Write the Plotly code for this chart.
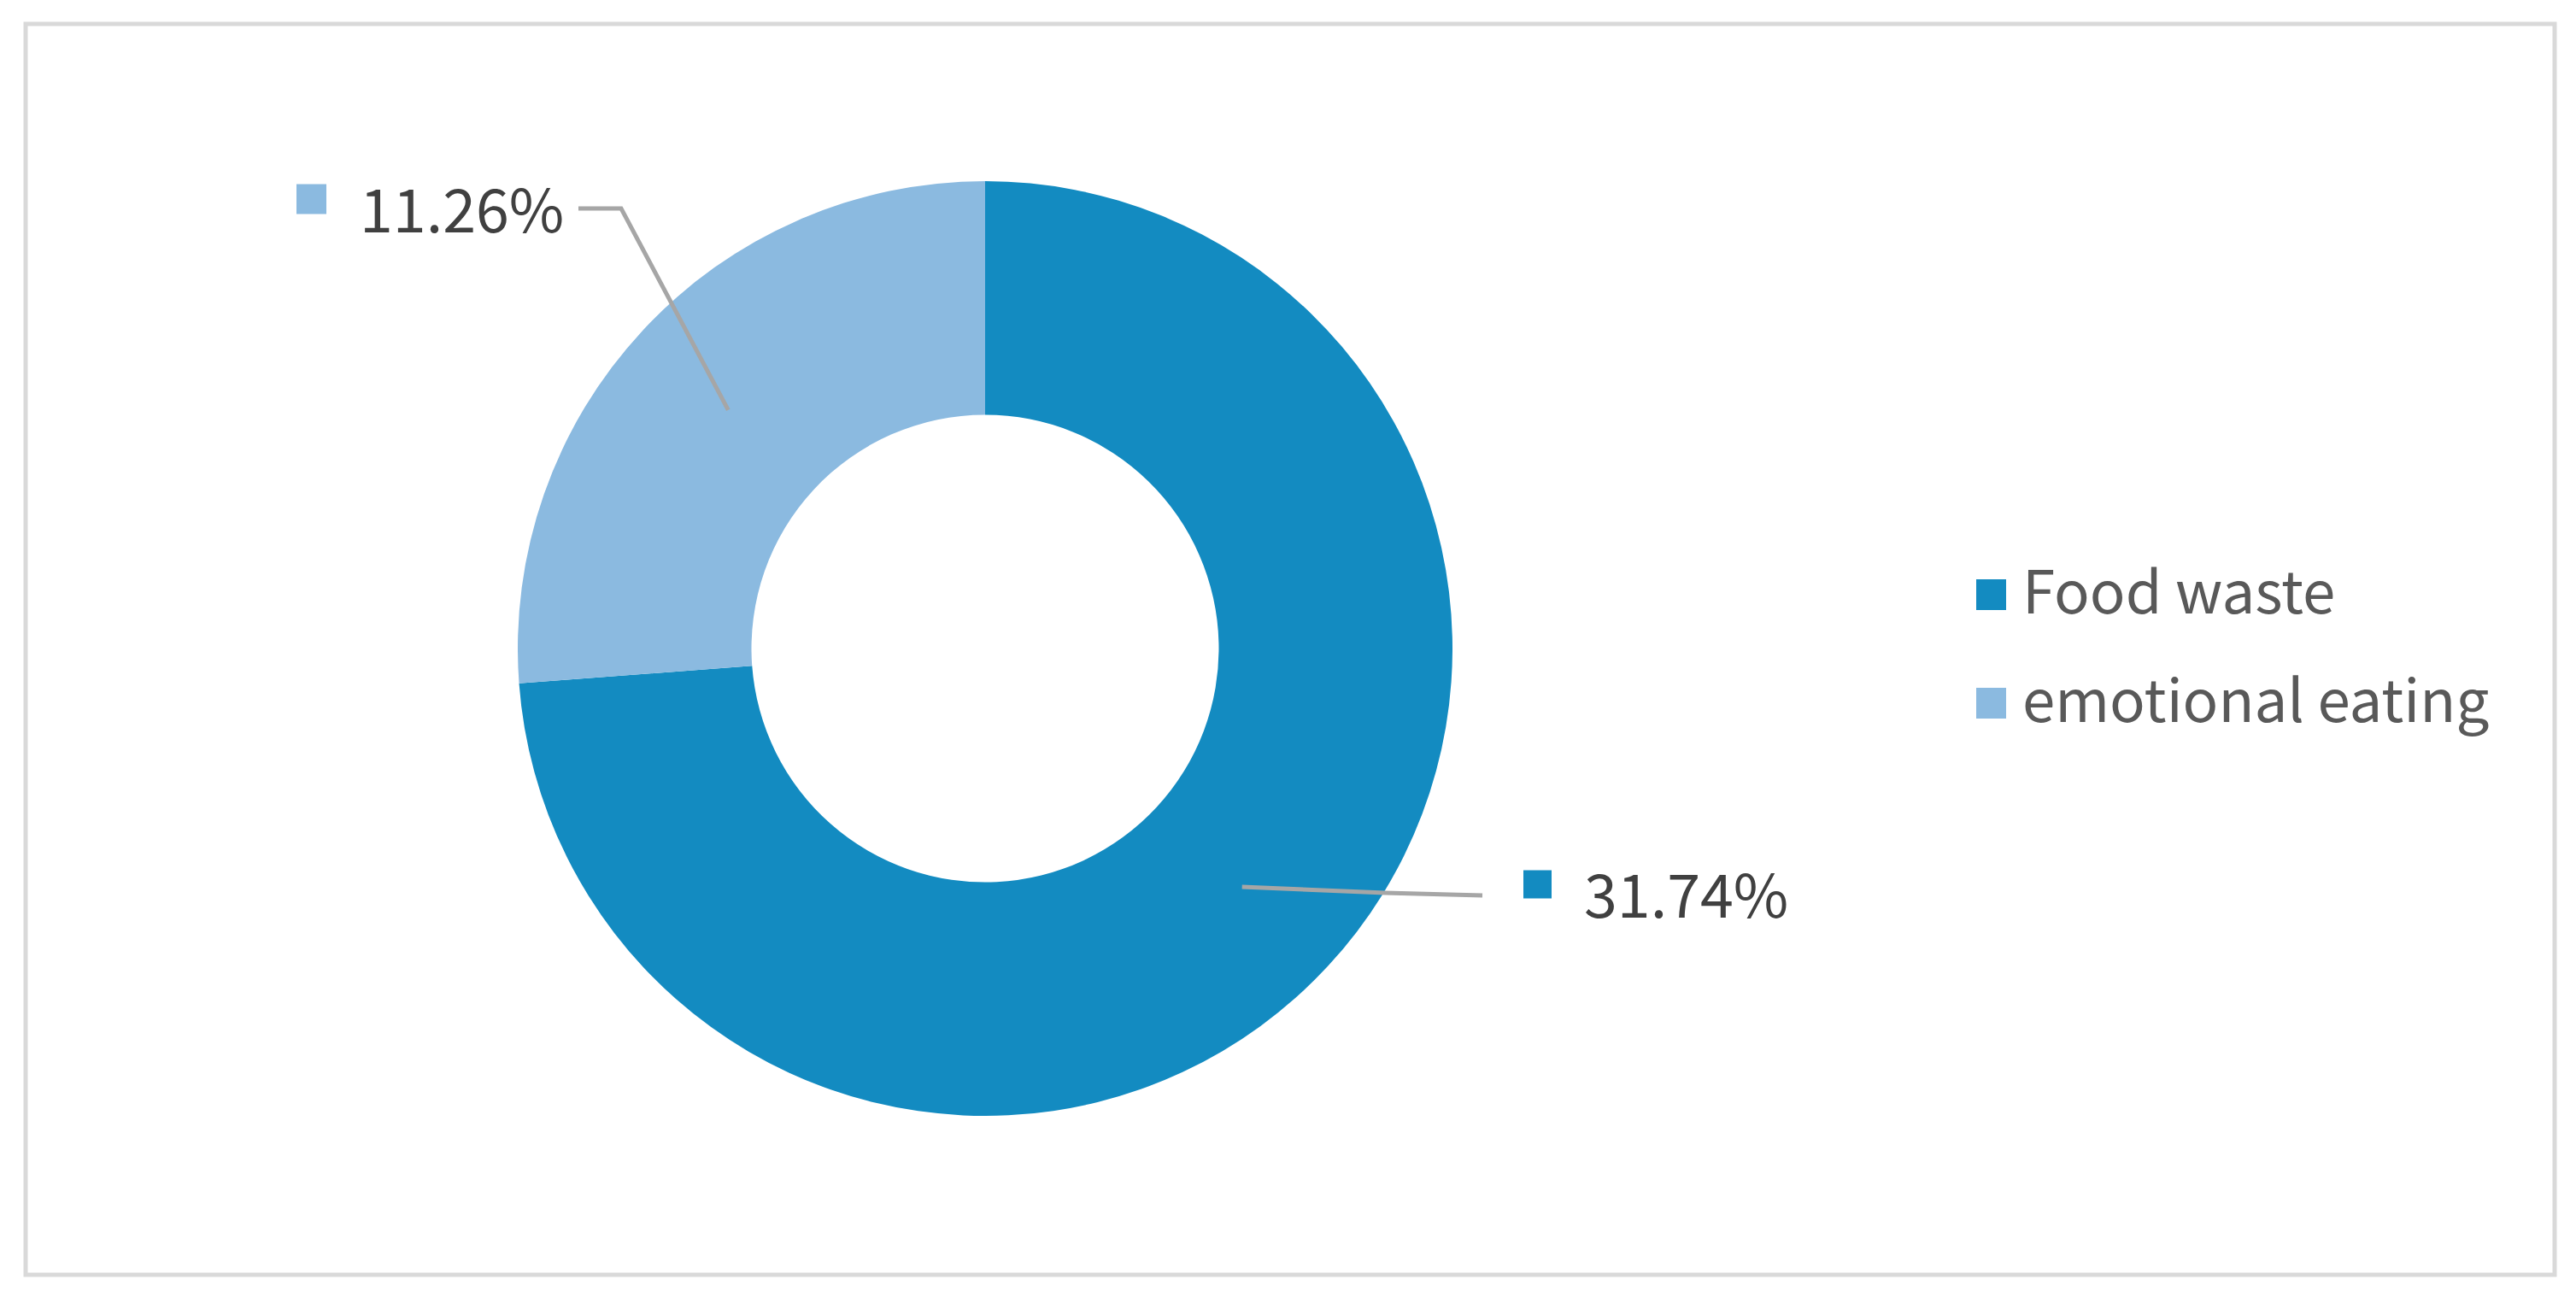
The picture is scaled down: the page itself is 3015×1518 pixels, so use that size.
import math
import plotly.graph_objects as go

# data
labels = ["Food waste", "emotional eating"]
values = [31.74, 11.26]
label_text = ["31.74%", "11.26%"]
colors = ["#138bc1", "#8bbae0"]

W, H = 3015, 1518
FONT = "Noto Sans CJK SC, Noto Sans, sans-serif"


def px(x):
    return x / W


def py(y):
    return 1 - y / H


# donut geometry (pixels)
cx, cy, r_out = 1153, 759, 547
hole = 0.5

fig = go.Figure(go.Pie(
    labels=labels,
    values=values,
    marker=dict(colors=colors, line=dict(width=0)),
    hole=hole,
    sort=False,
    direction="clockwise",
    rotation=0,
    textinfo="none",
    hoverinfo="label+value",
    showlegend=False,
    domain=dict(x=[px(cx - r_out), px(cx + r_out)],
                y=[py(cy + r_out), py(cy - r_out)]),
))

shapes = []
annotations = []

# outer border of the chart area
shapes.append(dict(type="rect", xref="paper", yref="paper",
                   x0=px(30), x1=px(2990), y0=py(1492), y1=py(28),
                   line=dict(color="#d9d9d9", width=5), layer="below"))

# data labels with leader lines
label_pos = {"Food waste": (1852, 1043), "emotional eating": (419, 241)}
label_sq = {"Food waste": (1783, 1035, 33), "emotional eating": (347, 233, 35)}
leader_path = {"Food waste": [(1621, 1045), (1735, 1048)],
               "emotional eating": [(727, 244), (677, 244)]}

total = sum(values)
start = 0.0
r_mid = r_out * (1 + hole) / 2
for lab, val, txt, col in zip(labels, values, label_text, colors):
    span = val / total * 360
    mid = math.radians(start + span / 2)
    start += span
    x0 = cx + r_mid * math.sin(mid)
    y0 = cy - r_mid * math.cos(mid)
    pts = [(x0, y0)] + leader_path[lab]
    path = "M " + " L ".join(f"{px(a):.5f},{py(b):.5f}" for a, b in pts)
    shapes.append(dict(type="path", xref="paper", yref="paper", path=path,
                       line=dict(color="#a6a6a6", width=5)))
    sx, sy, s = label_sq[lab]
    shapes.append(dict(type="rect", xref="paper", yref="paper",
                       x0=px(sx), x1=px(sx + s),
                       y0=py(sy + s / 2), y1=py(sy - s / 2),
                       fillcolor=col, line=dict(width=0)))
    tx, ty = label_pos[lab]
    annotations.append(dict(x=px(tx), y=py(ty), xref="paper", yref="paper",
                            text=txt, showarrow=False, xanchor="left", yanchor="middle",
                            font=dict(family=FONT, size=70, color="#404040")))

# legend on the right
leg_x, leg_sq_x, leg_y0, leg_dy = 2365, 2313, 696, 127
for i, (lab, col) in enumerate(zip(labels, colors)):
    yy = leg_y0 + i * leg_dy
    shapes.append(dict(type="rect", xref="paper", yref="paper",
                       x0=px(leg_sq_x), x1=px(leg_sq_x + 35),
                       y0=py(yy + 18), y1=py(yy - 18),
                       fillcolor=col, line=dict(width=0)))
    annotations.append(dict(x=px(leg_x), y=py(yy - 8), xref="paper", yref="paper",
                            text=lab, showarrow=False, xanchor="left", yanchor="middle",
                            font=dict(family=FONT, size=69, color="#595959")))

fig.update_layout(
    width=W, height=H,
    margin=dict(l=0, r=0, t=0, b=0),
    paper_bgcolor="white",
    plot_bgcolor="white",
    shapes=shapes,
    annotations=annotations,
)

# drop the default page margin so the figure sits at the window origin
fig.write_html("out.html", config={"displayModeBar": False},
               post_script="document.body.style.margin='0';")
